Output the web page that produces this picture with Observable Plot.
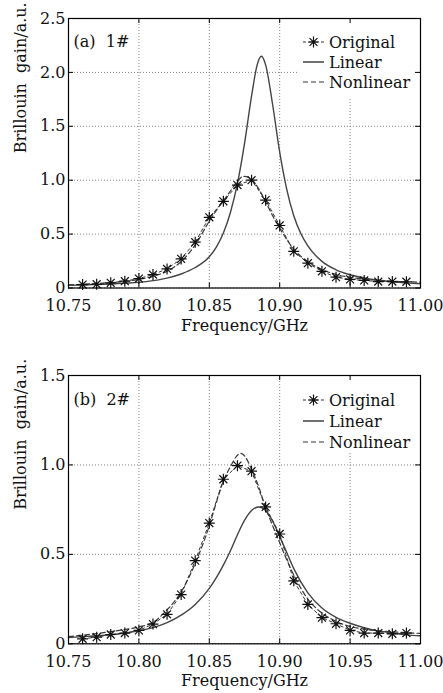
<!DOCTYPE html>
<html><head><meta charset="utf-8">
<script src="https://cdn.jsdelivr.net/npm/d3@7"></script>
<script src="https://cdn.jsdelivr.net/npm/@observablehq/plot@0.6"></script>
<style>body{margin:0;background:#fff} #chart svg{display:block}</style>
</head><body><div id="chart"></div>
<script>
// ---------- data ----------
const xTicks = [10.75, 10.80, 10.85, 10.90, 10.95, 11.00];
const yTicksA = [0, 0.5, 1.0, 1.5, 2.0, 2.5];
const yTicksB = [0, 0.5, 1.0, 1.5];
const legendLabels = ["Original", "Linear", "Nonlinear"];

const freqOrig = [10.76,10.77,10.78,10.79,10.80,10.81,10.82,10.83,10.84,10.85,10.86,10.87,10.88,10.89,10.90,10.91,10.92,10.93,10.94,10.95,10.96,10.97,10.98,10.99];
const origA = [0.032,0.035,0.048,0.063,0.088,0.125,0.177,0.27,0.425,0.656,0.804,0.955,1.0,0.815,0.58,0.34,0.23,0.155,0.10,0.08,0.07,0.06,0.06,0.058];
const origB = [0.028,0.037,0.052,0.06,0.075,0.11,0.165,0.275,0.465,0.675,0.92,0.996,0.965,0.765,0.614,0.352,0.22,0.146,0.112,0.075,0.06,0.06,0.056,0.06];

const linAx = [10.75,10.76,10.77,10.78,10.79,10.80,10.81,10.82,10.83,10.84,10.85,10.855,10.86,10.865,10.87,10.875,10.88,10.884,10.887,10.89,10.895,10.90,10.905,10.91,10.915,10.92,10.93,10.94,10.95,10.96,10.97,10.98,10.99,11.00];
const linA  = [0.025,0.028,0.032,0.037,0.044,0.052,0.068,0.092,0.13,0.19,0.29,0.38,0.51,0.70,0.97,1.34,1.78,2.07,2.15,2.07,1.70,1.26,0.915,0.67,0.505,0.39,0.247,0.169,0.123,0.093,0.072,0.058,0.048,0.040];

const nonAx = [10.75,10.76,10.77,10.78,10.79,10.80,10.81,10.82,10.83,10.84,10.85,10.855,10.86,10.865,10.87,10.874,10.878,10.882,10.886,10.89,10.895,10.90,10.905,10.91,10.92,10.93,10.94,10.95,10.96,10.97,10.98,10.99,11.00];
const nonA  = [0.03,0.035,0.042,0.05,0.062,0.08,0.108,0.155,0.245,0.40,0.62,0.72,0.81,0.90,0.99,1.035,1.025,0.98,0.90,0.80,0.67,0.555,0.45,0.36,0.245,0.172,0.125,0.10,0.083,0.072,0.064,0.058,0.054];

const linBx = [10.75,10.76,10.77,10.78,10.79,10.80,10.81,10.82,10.83,10.84,10.85,10.855,10.86,10.865,10.87,10.875,10.88,10.885,10.89,10.895,10.90,10.905,10.91,10.92,10.93,10.94,10.95,10.96,10.97,10.98,10.99,11.00];
const linB  = [0.035,0.04,0.045,0.05,0.06,0.072,0.09,0.118,0.16,0.22,0.31,0.37,0.44,0.52,0.61,0.69,0.745,0.765,0.745,0.685,0.60,0.51,0.42,0.285,0.20,0.148,0.115,0.09,0.072,0.06,0.05,0.045];

const nonBx = [10.75,10.76,10.77,10.78,10.79,10.80,10.81,10.82,10.83,10.84,10.85,10.855,10.86,10.865,10.869,10.8725,10.876,10.88,10.885,10.89,10.895,10.90,10.905,10.91,10.92,10.93,10.94,10.95,10.96,10.97,10.98,10.99,11.00];
const nonB  = [0.04,0.048,0.057,0.068,0.08,0.095,0.12,0.19,0.29,0.45,0.66,0.79,0.91,0.99,1.045,1.065,1.04,0.975,0.88,0.76,0.66,0.565,0.47,0.385,0.25,0.172,0.125,0.097,0.082,0.073,0.067,0.062,0.058];

// ---------- drawing ----------
const W = 443, ML = 68, MR = 23;
const FONT = "'DejaVu Serif', serif";
const star8 = {
  draw(ctx, size) {
    const r = Math.sqrt(size / Math.PI), d = r * 0.72;
    ctx.moveTo(0, -r); ctx.lineTo(0, r);
    ctx.moveTo(-r, 0); ctx.lineTo(r, 0);
    ctx.moveTo(-d, -d); ctx.lineTo(d, d);
    ctx.moveTo(-d, d); ctx.lineTo(d, -d);
  }
};
const rows = (xs, ys) => xs.map((x, i) => ({x, y: ys[i]}));

function panel(cfg) {
  const fh = cfg.height - cfg.mt - cfg.mb, fw = W - ML - MR;
  const orig = rows(freqOrig, cfg.orig), lin = rows(cfg.linX, cfg.lin), non = rows(cfg.nonX, cfg.non);
  const grid = {stroke: "#777", strokeOpacity: 1, strokeWidth: 0.9, strokeDasharray: "1,2"};
  const svg = Plot.plot({
    width: W, height: cfg.height,
    marginLeft: ML, marginRight: MR, marginTop: cfg.mt, marginBottom: cfg.mb,
    style: {fontFamily: FONT, fontSize: "16px", color: "#111", background: "white"},
    x: {domain: [10.75, 11.0]},
    y: {domain: cfg.yDomain},
    marks: [
      Plot.gridX(xTicks, grid),
      Plot.gridY(cfg.yTicks, grid),
      Plot.axisX(xTicks, {tickSize: 0, tickPadding: 12, label: null, tickFormat: d => d.toFixed(2)}),
      Plot.axisY(cfg.yTicks, {tickSize: 0, tickPadding: 3, label: null, tickFormat: d => d === 0 ? "0" : d.toFixed(1)}),
      Plot.line(lin, {x: "x", y: "y", stroke: "#444", strokeWidth: 1.4, curve: "monotone-x"}),
      Plot.line(non, {x: "x", y: "y", stroke: "#3a3a3a", strokeWidth: 1.2, strokeDasharray: "5,3", curve: "monotone-x"}),
      Plot.line(orig, {x: "x", y: "y", stroke: "#333", strokeWidth: 1, strokeDasharray: "3,3"}),
      Plot.dot(orig, {x: "x", y: "y", symbol: star8, r: 5.5, stroke: "#111", strokeWidth: 1.2, fill: "none"}),
      Plot.ruleX(xTicks, {x: d => d, insetTop: fh - 5, stroke: "#000"}),
      Plot.ruleX(xTicks, {x: d => d, insetBottom: fh - 5, stroke: "#000"}),
      Plot.ruleY(cfg.yTicks, {y: d => d, insetLeft: fw - 5, stroke: "#000"}),
      Plot.ruleY(cfg.yTicks, {y: d => d, insetRight: fw - 5, stroke: "#000"}),
      Plot.frame({stroke: "#000", strokeWidth: 1.2}),
      Plot.text(["Brillouin  gain/a.u."], {frameAnchor: "left", dx: -48, rotate: -90, text: d => d, fill: "#111"}),
      Plot.text(["Frequency/GHz"], {frameAnchor: "bottom", dy: cfg.xlabDy, text: d => d, fill: "#111"}),
      Plot.text([cfg.tag], {frameAnchor: "top-left", dx: 5, dy: cfg.tagDy, textAnchor: "start", text: d => d, fill: "#111"})
    ]
  });
  // legend (white box that hides the grid behind it)
  const g = d3.create("svg:g").attr("font-family", FONT).attr("font-size", 16).attr("fill", "#111").attr("text-anchor", "start");
  g.append("rect").attr("x", 297).attr("y", cfg.mt + 1).attr("width", 122).attr("height", cfg.legH).attr("fill", "white");
  legendLabels.forEach((lab, i) => {
    const y = cfg.legY0 + i * cfg.legDy;
    const dash = i === 0 ? "3,3" : i === 2 ? "5,3" : null;
    g.append("line").attr("x1", 303).attr("x2", 324).attr("y1", y).attr("y2", y)
      .attr("stroke", "#333").attr("stroke-width", i === 1 ? 1.4 : 1.2).attr("stroke-dasharray", dash);
    if (i === 0) {
      const p = d3.path(); star8.draw(p, Math.PI * 30);
      g.append("path").attr("d", p.toString()).attr("transform", `translate(313.5,${y})`)
        .attr("stroke", "#111").attr("stroke-width", 1.2).attr("fill", "none");
    }
    g.append("text").attr("x", 329).attr("y", y).attr("dy", "0.35em").attr("text-anchor", "start").text(lab);
  });
  const yg = svg.querySelector('[aria-label="y-grid"]');
  yg.after(g.node());
  return svg;
}

const chart = document.getElementById("chart");
chart.append(panel({height: 345, mt: 18, mb: 57.5, yDomain: [0, 2.5], yTicks: yTicksA,
  orig: origA, linX: linAx, lin: linA, nonX: nonAx, non: nonA, tag: "(a)  1#", tagDy: 17, xlabDy: 43,
  legH: 78, legY0: 42, legDy: 20}));
chart.append(panel({height: 348, mt: 30, mb: 49.7, yDomain: [0, 1.5], yTicks: yTicksB,
  orig: origB, linX: linBx, lin: linB, nonX: nonBx, non: nonB, tag: "(b)  2#", tagDy: 18, xlabDy: 42,
  legH: 75, legY0: 55, legDy: 21}));
</script></body></html>
